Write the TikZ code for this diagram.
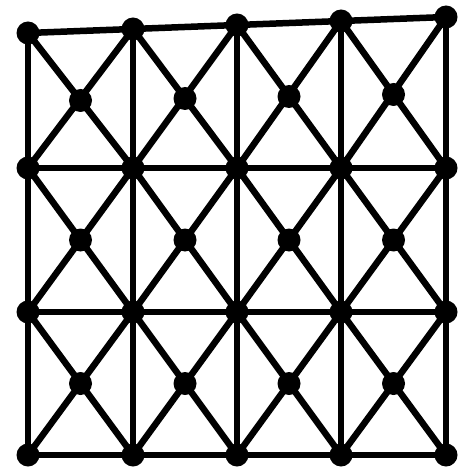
\documentclass[tikz,border=0pt]{standalone}
\usetikzlibrary{calc}
\begin{document}
\begin{tikzpicture}[x=1pt,y=-1pt,
  dot/.style={circle,fill=black,inner sep=0pt,minimum size=23pt},
  bar/.style={line width=6.5pt,line cap=round}]
\useasboundingbox (0,0) rectangle (470,470);
\fill[white] (0,0) rectangle (470,470);
% grid points
\foreach \i/\x in {0/28,1/133,2/237,3/341,4/446}{
  \pgfmathsetmacro{\ya}{33-4*\i}
  \coordinate (p-\i-0) at (\x,\ya);
  \coordinate (p-\i-1) at (\x,168);
  \coordinate (p-\i-2) at (\x,312);
  \coordinate (p-\i-3) at (\x,455);
}
% cell centers
\foreach \i in {0,1,2,3}{
  \pgfmathtruncatemacro{\n}{\i+1}
  \foreach \j in {0,1,2}{
    \pgfmathtruncatemacro{\m}{\j+1}
    \coordinate (c-\i-\j) at ($(p-\i-\j)!0.5!(p-\n-\m)$);
  }
}
% lines
\foreach \j in {0,1,2,3}{\draw[bar] (p-0-\j) -- (p-4-\j);}
\foreach \i in {0,1,2,3,4}{\draw[bar] (p-\i-0) -- (p-\i-3);}
\foreach \i in {0,1,2,3}{
  \pgfmathtruncatemacro{\n}{\i+1}
  \foreach \j in {0,1,2}{
    \pgfmathtruncatemacro{\m}{\j+1}
    \draw[bar] (p-\i-\j) -- (p-\n-\m);
    \draw[bar] (p-\n-\j) -- (p-\i-\m);
  }
}
% dots
\foreach \i in {0,...,4}{\foreach \j in {0,...,3}{\node[dot] (P-\i-\j) at (p-\i-\j) {};}}
\foreach \i in {0,...,3}{\foreach \j in {0,...,2}{\node[dot] (C-\i-\j) at (c-\i-\j) {};}}
\end{tikzpicture}
\end{document}
